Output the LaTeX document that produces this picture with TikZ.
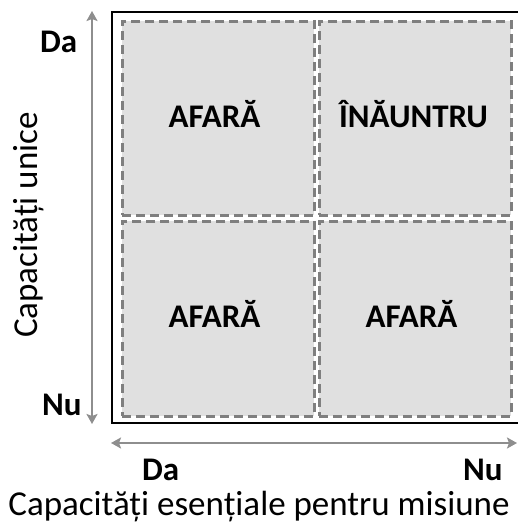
\documentclass[tikz,border=0pt]{standalone}
\usepackage{fontspec}
\setmainfont{Carlito}
\usetikzlibrary{arrows.meta}
\definecolor{cellfill}{HTML}{E0E0E0}
\definecolor{dashgray}{HTML}{7F7F7F}
\definecolor{axisgray}{HTML}{8E8E8E}
\tikzset{
  cell/.style={draw=dashgray, fill=cellfill, line width=2.6pt, dash pattern=on 9pt off 5pt, minimum width=192pt, minimum height=194pt, inner sep=0pt, anchor=north west},
  celltext/.style={font=\fontsize{33}{36}\selectfont\bfseries, inner sep=0pt, anchor=base},
  axislabel/.style={font=\fontsize{33}{36}\selectfont\bfseries, inner sep=0pt},
  title/.style={font=\fontsize{35}{40}\selectfont, inner sep=0pt, anchor=base},
  axis/.style={draw=axisgray, line width=2pt, {Stealth[length=10pt,width=11pt,inset=2pt]}-{Stealth[length=10pt,width=11pt,inset=2pt]}},
}
\begin{document}
\begin{tikzpicture}[x=1pt,y=-1pt]
\useasboundingbox (0,0) rectangle (517,524);
% cells
\node[cell] (tl) at (121,20) {};
\node[cell] (tr) at (318,20) {};
\node[cell, minimum height=195pt] (bl) at (121,220) {};
\node[cell, minimum height=195pt] (br) at (318,220) {};
% frame
\coordinate (ftr) at (518,12);
\coordinate (ftl) at (112,12);
\coordinate (fbl) at (112,423);
\coordinate (fbr) at (518,423);
\draw[line width=2pt, line join=miter] (ftr) -- (ftl) -- (fbl) -- (fbr);
% cell texts
\node[celltext] (t1) at (214.5,127) {AFARĂ};
\node[celltext] (t2) at (413.5,127) {ÎNĂUNTRU};
\node[celltext] (t3) at (214.5,327) {AFARĂ};
\node[celltext] (t4) at (411.5,327) {AFARĂ};
% axes
\coordinate (vtop) at (92,11);
\coordinate (vbot) at (92,424);
\draw[axis] (vtop) -- (vbot);
\coordinate (hl) at (111,443);
\coordinate (hr) at (517,443);
\draw[axis] (hl) -- (hr);
% axis labels
\node[axislabel, anchor=base west] (yda) at (40,53) {Da};
\node[axislabel, anchor=base west] (ynu) at (42,415) {Nu};
\node[axislabel, anchor=base west] (xda) at (142,480) {Da};
\node[axislabel, anchor=base west] (xnu) at (463,480) {Nu};
\node[title, rotate=90] (ytitle) at (37,225) {Capacități unice};
\node[title] (xtitle) at (259,515) {Capacități esențiale pentru misiune};
\end{tikzpicture}
\end{document}
